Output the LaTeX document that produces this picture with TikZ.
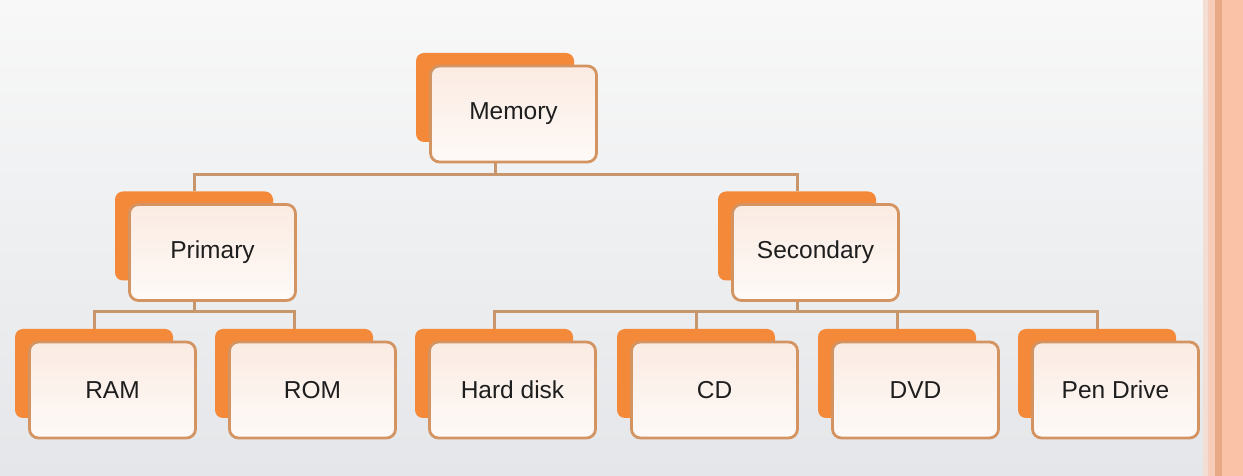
\documentclass[tikz,border=0pt]{standalone}
\usepackage{fontspec}
\setmainfont{Liberation Sans}
\usepackage{xcolor}
\usepackage{tikz}
\usetikzlibrary{calc,backgrounds}
\definecolor{bgtop}{HTML}{F8F8F8}
\definecolor{bgbot}{HTML}{E4E6E9}
\definecolor{orange}{HTML}{F5893A}
\definecolor{tan}{HTML}{D39462}
\definecolor{peach}{HTML}{FBEBE2}
\definecolor{linkc}{HTML}{C8966C}
\definecolor{text}{HTML}{1E1E1E}
\definecolor{bandA}{HTML}{F4DDD3}
\definecolor{bandB}{HTML}{F6CDB9}
\definecolor{bandC}{HTML}{E8A987}
\definecolor{bandD}{HTML}{FAC3A8}
\tikzset{
  backbox/.style={fill=orange, rounded corners=8pt, minimum width=158pt, minimum height=89pt, inner sep=0pt},
  frontbox/.style={draw=tan, line width=2.8pt, rounded corners=9pt, top color=peach, bottom color=peach!25!white,
    minimum width=166pt, minimum height=96pt, inner sep=0pt, text=text, font=\fontsize{24.5}{28}\selectfont},
  link/.style={draw=linkc, line width=3pt}
}

\begin{document}
\begin{tikzpicture}[x=1pt,y=1pt]
  \useasboundingbox (0,0) rectangle (1243,476);
  % top level
  \node[backbox] (mem-b) at (495,378.5) {};
  \node[frontbox] (mem) at ($(mem-b)+(18.5,-16.5)$) {Memory};
  % second level
  \node[backbox] (pri-b) at (194,240) {};
  \node[frontbox] (pri) at ($(pri-b)+(18.5,-16.5)$) {Primary};
  \node[backbox] (sec-b) at (797,240) {};
  \node[frontbox] (sec) at ($(sec-b)+(18.5,-16.5)$) {Secondary};
  % third level
  \foreach \name/\x/\txt in {ram/94/RAM, rom/294/ROM, hdd/494/Hard disk, cd/696/CD, dvd/897/DVD, pen/1097/Pen Drive} {
    \node[backbox] (\name-b) at (\x,102.5) {};
    \node[frontbox] (\name) at ($(\name-b)+(18.5,-16.5)$) {\txt};
  }
  \begin{scope}[on background layer]
    \shade[top color=bgtop, bottom color=bgbot] (0,0) rectangle (1243,476);
    % side band
    \fill[bandA] (1203,0) rectangle (1208,476);
    \fill[bandB] (1208,0) rectangle (1215,476);
    \fill[bandC] (1215,0) rectangle (1222,476);
    \fill[bandD] (1222,0) rectangle (1243,476);
    \foreach \p/\c in {mem/pri, mem/sec, pri/ram, pri/rom, sec/hdd, sec/cd, sec/dvd, sec/pen}
      \draw[link] (\p-b.center) |- ($(\c-b.north)+(0,17)$) -| (\c-b.north);
  \end{scope}
\end{tikzpicture}
\end{document}
